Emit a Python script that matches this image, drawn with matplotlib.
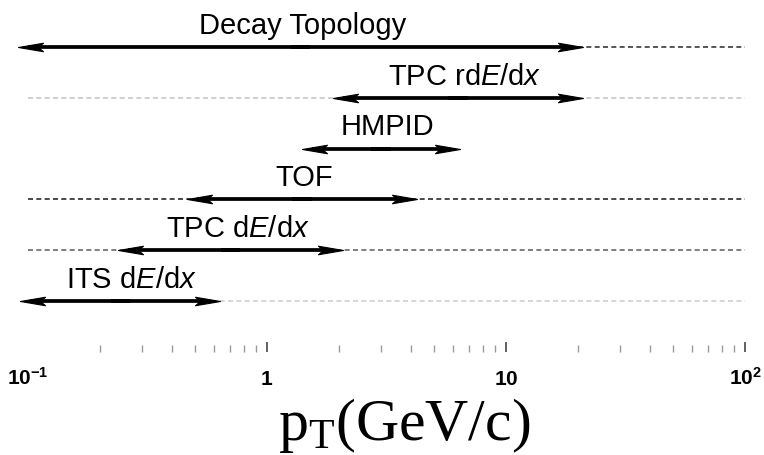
import numpy as np
import matplotlib
matplotlib.use("Agg")
import matplotlib.pyplot as plt
import matplotlib.transforms as mtransforms
from matplotlib.path import Path
from matplotlib.ticker import FixedLocator, LogLocator, NullFormatter

# PID methods, top row first
methods = ["Decay Topology", "TPC rd$E$/d$x$", "HMPID", "TOF",
           "TPC d$E$/d$x$", "ITS d$E$/d$x$"]
# pT reach of each method (GeV/c), arrow ends
pt_low = [0.091, 1.89, 1.40, 0.463, 0.238, 0.093]
pt_high = [21.0, 21.0, 6.42, 4.24, 2.08, 0.636]
# where each label sits along its row (GeV/c)
label_pt = [1.41, 6.74, 3.18, 1.43, 0.756, 0.272]

label_ticks = [0.1, 1, 10, 100]
tick_labels = [r"$\mathbf{10^{-1}}$", r"$\mathbf{1}$", r"$\mathbf{10}$",
               r"$\mathbf{10^{2}}$"]
drawn_ticks = [1, 10, 100]

# guide line behind each arrow (None = no line)
guide_color = ["#3a3a3a", "#c8c8c8", None, "#2a2a2a", "#6a6a6a", "#d0d0d0"]

plt.rcParams["font.family"] = ["Liberation Sans", "DejaVu Sans"]
plt.rcParams["mathtext.fontset"] = "custom"
plt.rcParams["mathtext.it"] = "Liberation Sans:italic"
plt.rcParams["mathtext.bf"] = "Liberation Sans:bold"
plt.rcParams["mathtext.rm"] = "Liberation Serif"

# arrow heads as markers whose tip sits on the data point
_head = [(0, 0), (-1, 0.17), (-0.8, 0), (-1, -0.17), (0, 0)]
_codes = [Path.MOVETO, Path.LINETO, Path.LINETO, Path.LINETO, Path.CLOSEPOLY]
head_right = Path(_head, _codes)
head_left = Path([(-x, y) for x, y in _head], _codes)

fig = plt.figure(figsize=(7.64, 4.56), dpi=100)
ax = fig.add_axes([28 / 764, 1 - 353 / 456, (745 - 28) / 764, 353 / 456])
ax.set_xscale("log")
ax.set_xlim(0.1, 100)
ax.set_ylim(len(methods) + 0.01, -0.95)

for s in ax.spines.values():
    s.set_visible(False)
ax.tick_params(axis="y", left=False, labelleft=False)
ax.xaxis.set_major_locator(FixedLocator(drawn_ticks))
ax.xaxis.set_minor_locator(LogLocator(base=10, subs=range(2, 10)))
ax.xaxis.set_minor_formatter(NullFormatter())
ax.tick_params(axis="x", which="major", direction="in", length=7.5,
               width=1.3, color="#555555", labelbottom=False)
ax.tick_params(axis="x", which="minor", direction="in", length=5,
               width=1.0, color="#999999")

for v, lab in zip(label_ticks, tick_labels):
    ax.text(v, -0.0907, lab, transform=ax.get_xaxis_transform(),
            ha="center", va="baseline", fontsize=15, clip_on=False)

# shaft halves pulled in a little so the head tips stay sharp
pull = 7.0 / 72
to_right = ax.transData + mtransforms.ScaledTranslation(pull, 0, fig.dpi_scale_trans)
to_left = ax.transData + mtransforms.ScaledTranslation(-pull, 0, fig.dpi_scale_trans)

for i, name in enumerate(methods):
    if guide_color[i]:
        ax.plot([0.1, 100], [i, i], color=guide_color[i], lw=1.2,
                ls=(0, (3, 2)), zorder=1)
    mid = np.sqrt(pt_low[i] * pt_high[i])
    ax.plot([pt_low[i], mid], [i, i], color="black", lw=2.7,
            solid_capstyle="butt", transform=to_right, clip_on=False, zorder=3)
    ax.plot([mid, pt_high[i]], [i, i], color="black", lw=2.7,
            solid_capstyle="butt", transform=to_left, clip_on=False, zorder=3)
    ax.plot([pt_low[i]], [i], marker=head_left, ms=36, color="black",
            mew=0.8, clip_on=False, zorder=4)
    ax.plot([pt_high[i]], [i], marker=head_right, ms=36, color="black",
            mew=0.8, clip_on=False, zorder=4)
    ax.text(label_pt[i], i - 0.28, name, ha="center", va="baseline",
            fontsize=21)

fig.text(404 / 764, 1 - 440 / 456, r"$\mathrm{p_T}$(GeV/c)",
         family="Liberation Serif", fontsize=43, ha="center", va="baseline")

fig.savefig("out.png", dpi=100)
